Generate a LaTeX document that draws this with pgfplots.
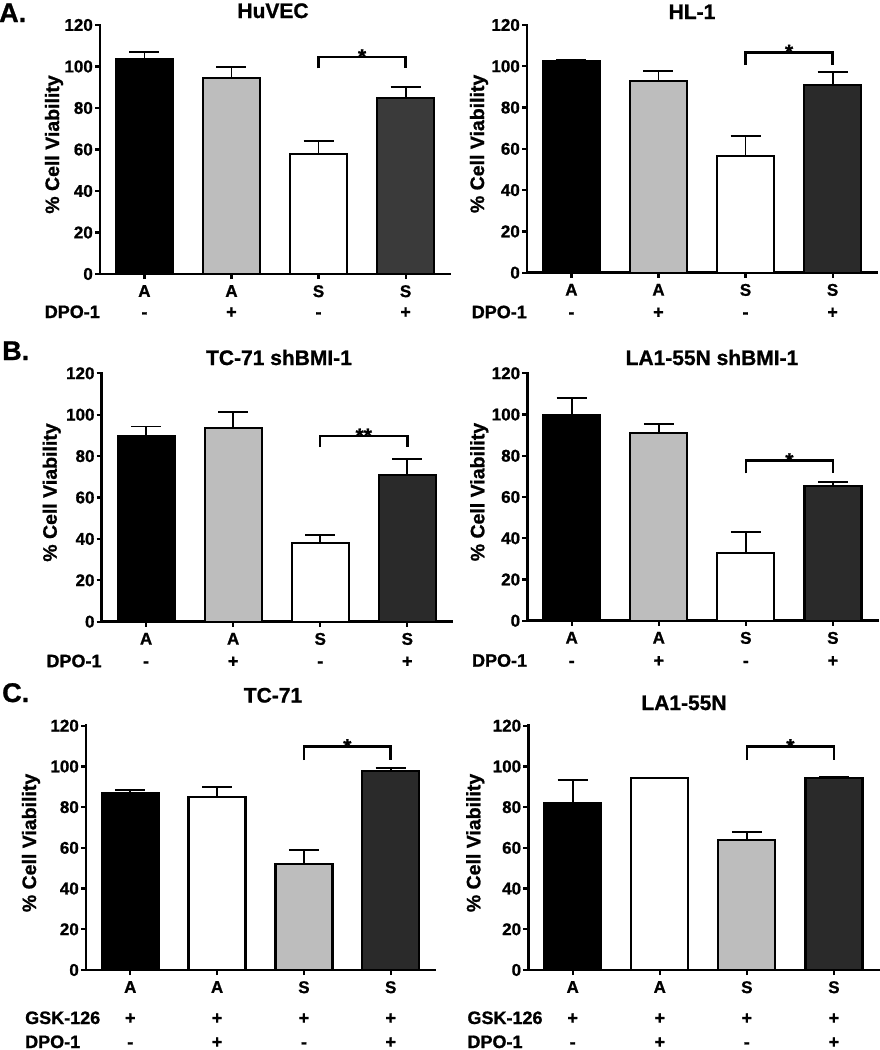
\documentclass[border=0pt]{standalone}
\usepackage{pgfplots}
\pgfplotsset{compat=1.18}
\usepackage{fontspec}
\setmainfont{Liberation Sans}[BoldFeatures={FakeBold=1}]
\newcommand\fT{\fontsize{17}{17}\selectfont\bfseries}
\newcommand\fL{\fontsize{18}{18}\selectfont\bfseries}
\newcommand\fY{\fontsize{19.5}{19.5}\selectfont\bfseries}
\newcommand\fS{\fontsize{21}{21}\selectfont\bfseries}
\newcommand\fH{\fontsize{21}{21}\selectfont\bfseries}
\newcommand\fP{\fontsize{27}{27}\selectfont\bfseries}
\definecolor{lg}{HTML}{BDBDBD}
\definecolor{dgA}{HTML}{3A3A3A}
\definecolor{dg}{HTML}{2A2A2A}
\pgfplotsset{
  panel/.style={
    scale only axis, width=350pt, anchor=south west, clip=false,
    xmin=-0.51, xmax=3.51, ymin=0, ymax=120,
    axis x line=bottom, axis y line=left,
    axis line style={-, line width=2.5pt, line cap=rect},
    xtick={0,1,2,3}, xticklabels={A,A,S,S}, ytick={0,20,...,120},
    tick align=outside, major tick length=5pt,
    tick style={line width=2.2pt, black},
    ticklabel style={font=\fT},
    /pgf/number format/assume math mode=true,
    yticklabel style={inner sep=1pt, xshift=-1pt},
    xticklabel style={inner sep=0pt, anchor=north, yshift=-6pt},
  },
  bar/.style={ybar, bar width=57pt, draw=black, line width=2.2pt,
    error bars/y dir=plus, error bars/y explicit,
    error bars/error bar style={line width=1.8pt, black},
    error bars/error mark options={rotate=90, line width=1.8pt, mark size=15pt, black}},
  brk/.style={line width=2.5pt, black, mark=none},
}
\begin{document}
\begin{tikzpicture}
\path[use as bounding box] (0,0) rectangle (880pt,-1050pt);
% panel letters
\node[anchor=base west, inner sep=0pt, font=\fP] at (-1pt,-22pt) {A.};
\node[anchor=base west, inner sep=0pt, font=\fP] at (2pt,-360pt) {B.};
\node[anchor=base west, inner sep=0pt, font=\fP] at (2pt,-702pt) {C.};
% titles
\node[anchor=base, inner sep=0pt, font=\fH] at (273pt,-18pt) {HuVEC};
\node[anchor=base, inner sep=0pt, font=\fH] at (692pt,-19pt) {HL-1};
\node[anchor=base, inner sep=0pt, font=\fH] at (279pt,-365pt) {TC-71 shBMI-1};
\node[anchor=base, inner sep=0pt, font=\fH] at (712pt,-365pt) {LA1-55N shBMI-1};
\node[anchor=base, inner sep=0pt, font=\fH] at (273pt,-702.5pt) {TC-71};
\node[anchor=base, inner sep=0pt, font=\fH] at (684pt,-710pt) {LA1-55N};

% ---------------- A left: HuVEC
\begin{axis}[panel, at={(100pt,-274pt)}, height=249pt]
\addplot[bar, fill=black] coordinates {(0,103.5) +- (0,3.3)};
\addplot[bar, fill=lg] coordinates {(1,94.5) +- (0,5.3)};
\addplot[bar, fill=white] coordinates {(2,57.8) +- (0,6.2)};
\addplot[bar, fill=dgA] coordinates {(3,84.7) +- (0,5.3)};
\addplot[brk] coordinates {(2,99.1) (2,104.7) (3,104.7) (3,99.1)};
\node[anchor=base, inner sep=0pt, font=\fS] at (axis cs:2.5,104.7) [yshift=-7pt] {*};
\node[xshift=-46pt, rotate=90, font=\fY] at (rel axis cs:0,0.52) {\% Cell Viability};
\node[anchor=base east, inner sep=0pt, font=\fL] at (rel axis cs:0,0) [yshift=-44pt] {DPO-1};
\node[anchor=base, inner sep=0pt, font=\fL] at (axis cs:0,0) [yshift=-44pt] {-};
\node[anchor=base, inner sep=0pt, font=\fL] at (axis cs:1,0) [yshift=-44pt] {+};
\node[anchor=base, inner sep=0pt, font=\fL] at (axis cs:2,0) [yshift=-44pt] {-};
\node[anchor=base, inner sep=0pt, font=\fL] at (axis cs:3,0) [yshift=-44pt] {+};
\end{axis}

% ---------------- A right: HL-1
\begin{axis}[panel, at={(527pt,-272.7pt)}, height=247.7pt]
\addplot[bar, fill=black] coordinates {(0,102.6) +- (0,0.5)};
\addplot[bar, fill=lg] coordinates {(1,92.9) +- (0,5.0)};
\addplot[bar, fill=white] coordinates {(2,56.5) +- (0,9.7)};
\addplot[bar, fill=dg] coordinates {(3,91.1) +- (0,6.0)};
\addplot[brk] coordinates {(2,100.6) (2,106.8) (3,106.8) (3,100.6)};
\node[anchor=base, inner sep=0pt, font=\fS] at (axis cs:2.5,106.8) [yshift=-7pt] {*};
\node[xshift=-48pt, rotate=90, font=\fY] at (rel axis cs:0,0.52) {\% Cell Viability};
\node[anchor=base east, inner sep=0pt, font=\fL] at (rel axis cs:0,0) [yshift=-45.5pt] {DPO-1};
\node[anchor=base, inner sep=0pt, font=\fL] at (axis cs:0,0) [yshift=-45.5pt] {-};
\node[anchor=base, inner sep=0pt, font=\fL] at (axis cs:1,0) [yshift=-45.5pt] {+};
\node[anchor=base, inner sep=0pt, font=\fL] at (axis cs:2,0) [yshift=-45.5pt] {-};
\node[anchor=base, inner sep=0pt, font=\fL] at (axis cs:3,0) [yshift=-45.5pt] {+};
\end{axis}

% ---------------- B left: TC-71 shBMI-1
\begin{axis}[panel, at={(101.7pt,-621.7pt)}, height=248.4pt]
\addplot[bar, fill=black] coordinates {(0,89.7) +- (0,4.6)};
\addplot[bar, fill=lg] coordinates {(1,93.5) +- (0,8.0)};
\addplot[bar, fill=white] coordinates {(2,38.2) +- (0,3.6)};
\addplot[bar, fill=dg] coordinates {(3,70.9) +- (0,7.7)};
\addplot[brk] coordinates {(2,84.3) (2,89.7) (3,89.7) (3,84.3)};
\node[anchor=base, inner sep=0pt, font=\fS] at (axis cs:2.5,89.7) [yshift=-7pt] {**};
\node[xshift=-50pt, rotate=90, font=\fY] at (rel axis cs:0,0.52) {\% Cell Viability};
\node[anchor=base east, inner sep=0pt, font=\fL] at (rel axis cs:0,0) [yshift=-45.5pt] {DPO-1};
\node[anchor=base, inner sep=0pt, font=\fL] at (axis cs:0,0) [yshift=-45.5pt] {-};
\node[anchor=base, inner sep=0pt, font=\fL] at (axis cs:1,0) [yshift=-45.5pt] {+};
\node[anchor=base, inner sep=0pt, font=\fL] at (axis cs:2,0) [yshift=-45.5pt] {-};
\node[anchor=base, inner sep=0pt, font=\fL] at (axis cs:3,0) [yshift=-45.5pt] {+};
\end{axis}

% ---------------- B right: LA1-55N shBMI-1
\begin{axis}[panel, at={(527.3pt,-620.7pt)}, height=247.4pt]
\addplot[bar, fill=black] coordinates {(0,99.8) +- (0,8.1)};
\addplot[bar, fill=lg] coordinates {(1,91.2) +- (0,4.3)};
\addplot[bar, fill=white] coordinates {(2,32.7) +- (0,10.2)};
\addplot[bar, fill=dg] coordinates {(3,65.3) +- (0,1.8)};
\addplot[brk] coordinates {(2,71.5) (2,77.6) (3,77.6) (3,71.5)};
\node[anchor=base, inner sep=0pt, font=\fS] at (axis cs:2.5,77.6) [yshift=-7pt] {*};
\node[xshift=-48pt, rotate=90, font=\fY] at (rel axis cs:0,0.52) {\% Cell Viability};
\node[anchor=base east, inner sep=0pt, font=\fL] at (rel axis cs:0,0) [yshift=-46pt] {DPO-1};
\node[anchor=base, inner sep=0pt, font=\fL] at (axis cs:0,0) [yshift=-46pt] {-};
\node[anchor=base, inner sep=0pt, font=\fL] at (axis cs:1,0) [yshift=-46pt] {+};
\node[anchor=base, inner sep=0pt, font=\fL] at (axis cs:2,0) [yshift=-46pt] {-};
\node[anchor=base, inner sep=0pt, font=\fL] at (axis cs:3,0) [yshift=-46pt] {+};
\end{axis}

% ---------------- C left: TC-71
\begin{axis}[panel, at={(86pt,-970pt)}, height=244.3pt, width=349pt]
\addplot[bar, fill=black] coordinates {(0,87.1) +- (0,1.3)};
\addplot[bar, fill=white] coordinates {(1,84.8) +- (0,5.2)};
\addplot[bar, fill=lg] coordinates {(2,51.9) +- (0,7.0)};
\addplot[bar, fill=dg] coordinates {(3,97.9) +- (0,1.2)};
\addplot[brk] coordinates {(2,103.1) (2,109.7) (3,109.7) (3,103.1)};
\node[anchor=base, inner sep=0pt, font=\fS] at (axis cs:2.5,109.7) [yshift=-7pt] {*};
\node[xshift=-55pt, rotate=90, font=\fY] at (rel axis cs:0,0.52) {\% Cell Viability};
\node[anchor=base west, inner sep=0pt, font=\fL] at (rel axis cs:0,0) [yshift=-54pt, xshift=-61pt] {GSK-126};
\node[anchor=base west, inner sep=0pt, font=\fL] at (rel axis cs:0,0) [yshift=-78pt, xshift=-61pt] {DPO-1};
\node[anchor=base, inner sep=0pt, font=\fL] at (axis cs:0,0) [yshift=-54pt] {+};
\node[anchor=base, inner sep=0pt, font=\fL] at (axis cs:1,0) [yshift=-54pt] {+};
\node[anchor=base, inner sep=0pt, font=\fL] at (axis cs:2,0) [yshift=-54pt] {+};
\node[anchor=base, inner sep=0pt, font=\fL] at (axis cs:3,0) [yshift=-54pt] {+};
\node[anchor=base, inner sep=0pt, font=\fL] at (axis cs:0,0) [yshift=-78pt] {-};
\node[anchor=base, inner sep=0pt, font=\fL] at (axis cs:1,0) [yshift=-78pt] {+};
\node[anchor=base, inner sep=0pt, font=\fL] at (axis cs:2,0) [yshift=-78pt] {-};
\node[anchor=base, inner sep=0pt, font=\fL] at (axis cs:3,0) [yshift=-78pt] {+};
\end{axis}

% ---------------- C right: LA1-55N
\begin{axis}[panel, at={(528.3pt,-970pt)}, height=244.3pt]
\addplot[bar, fill=black] coordinates {(0,82.2) +- (0,11.1)};
\addplot[bar, fill=white] coordinates {(1,94.2) +- (0,0.3)};
\addplot[bar, fill=lg] coordinates {(2,63.9) +- (0,3.7)};
\addplot[bar, fill=dg] coordinates {(3,94.2) +- (0,0.8)};
\addplot[brk] coordinates {(2,103.1) (2,109.7) (3,109.7) (3,103.1)};
\node[anchor=base, inner sep=0pt, font=\fS] at (axis cs:2.5,109.7) [yshift=-7pt] {*};
\node[xshift=-53pt, rotate=90, font=\fY] at (rel axis cs:0,0.52) {\% Cell Viability};
\node[anchor=base west, inner sep=0pt, font=\fL] at (rel axis cs:0,0) [yshift=-54pt, xshift=-61pt] {GSK-126};
\node[anchor=base west, inner sep=0pt, font=\fL] at (rel axis cs:0,0) [yshift=-78pt, xshift=-61pt] {DPO-1};
\node[anchor=base, inner sep=0pt, font=\fL] at (axis cs:0,0) [yshift=-54pt] {+};
\node[anchor=base, inner sep=0pt, font=\fL] at (axis cs:1,0) [yshift=-54pt] {+};
\node[anchor=base, inner sep=0pt, font=\fL] at (axis cs:2,0) [yshift=-54pt] {+};
\node[anchor=base, inner sep=0pt, font=\fL] at (axis cs:3,0) [yshift=-54pt] {+};
\node[anchor=base, inner sep=0pt, font=\fL] at (axis cs:0,0) [yshift=-78pt] {-};
\node[anchor=base, inner sep=0pt, font=\fL] at (axis cs:1,0) [yshift=-78pt] {+};
\node[anchor=base, inner sep=0pt, font=\fL] at (axis cs:2,0) [yshift=-78pt] {-};
\node[anchor=base, inner sep=0pt, font=\fL] at (axis cs:3,0) [yshift=-78pt] {+};
\end{axis}
\end{tikzpicture}
\end{document}
